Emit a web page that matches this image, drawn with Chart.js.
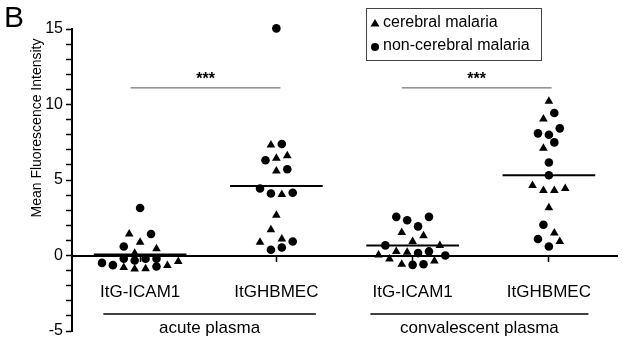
<!DOCTYPE html>
<html>
<head>
<meta charset="utf-8">
<script src="https://cdn.jsdelivr.net/npm/chart.js@4/dist/chart.umd.min.js"></script>
<style>
html, body { margin: 0; padding: 0; background: #fff; }
</style>
</head>
<body>
<canvas id="myChart" width="622" height="337"></canvas>
<script>
const groups = ['ItG-ICAM1', 'ItGHBMEC', 'ItG-ICAM1', 'ItGHBMEC'];
const plasmaLabels = ['acute plasma', 'convalescent plasma'];
const seriesNames = ['cerebral malaria', 'non-cerebral malaria'];

// cerebral malaria (triangles), one list per group
const cerebral = [
    [1.42, 0.87, 0.44, 0.15, -0.40, -0.67, -0.80, -0.89, -0.87],
    [7.31, 6.44, 6.60, 5.60, 4.04, 2.67, 1.71, 0.87, 1.09],
    [1.53, 1.31, 0.93, 0.67, 0.27, 0.22, 0.04, -0.24, -0.36, -0.58],
    [10.22, 9.04, 7.11, 4.64, 4.31, 4.31, 4.44, 3.16, 1.49, 0.93]
];
// horizontal scatter of each triangle around its group (category units)
const cerebralShift = [
    [-0.08, 0, 0.12, -0.04, 0.28, 0.20, -0.12, -0.04, 0.04],
    [-0.04, 0, 0.08, 0, 0.04, 0, -0.04, -0.12, 0.04],
    [-0.08, 0.08, 0, 0.20, -0.12, -0.04, -0.25, -0.17, 0.16, -0.08],
    [0, -0.04, -0.04, -0.12, -0.04, 0.04, 0.12, 0, 0.04, 0.08]
];

// non-cerebral malaria (circles)
const nonCerebral = [
    [3.15, 1.42, 0.60, -0.22, -0.33, -0.22, -0.22, -0.49, -0.64, -0.73],
    [15.04, 7.38, 6.31, 5.71, 4.44, 4.11, 4.16, 0.93, 0.38, 0.53],
    [2.56, 2.33, 2.56, 1.93, 0.67, 0.16, 0.27, 0.00, -0.62, -0.58],
    [9.44, 8.42, 8.09, 8.00, 7.49, 6.16, 5.31, 2.04, 1.09, 0.60]
];
const nonCerebralShift = [
    [0, 0.08, -0.12, -0.12, -0.04, 0.04, 0.12, -0.28, -0.20, 0.12],
    [0, 0.04, -0.08, 0.08, -0.12, -0.04, 0.12, 0.12, -0.04, 0.04],
    [-0.12, -0.04, 0.12, 0.04, -0.20, 0.04, 0.12, 0.24, 0, 0.08],
    [0.04, 0.08, -0.08, 0, 0.04, 0, 0, -0.04, -0.08, 0]
];

const means = [0.07, 4.60, 0.67, 5.31];
const sigSpans = [[0.93, 2.03], [2.92, 4.02]];
const sigLevel = 11.1;
const plasmaSpans = [[0.73, 2.29], [2.69, 4.29]];
const bracketLevel = -3.87;
const plasmaTextLevel = -4.85;

function toPoints(vals, shifts) {
    var pts = [];
    vals.forEach(function(g, i) {
        g.forEach(function(v, j) {
            pts.push({x: i + 1 + shifts[i][j], y: v});
        });
    });
    return pts;
}

var datasets = [
    {
        label: seriesNames[0],
        data: toPoints(cerebral, cerebralShift),
        pointStyle: 'triangle',
        pointRadius: 5,
        backgroundColor: '#000',
        borderColor: '#000',
        borderWidth: 0,
        clip: false
    },
    {
        label: seriesNames[1],
        data: toPoints(nonCerebral, nonCerebralShift),
        pointStyle: 'circle',
        pointRadius: 4.3,
        backgroundColor: '#000',
        borderColor: '#000',
        borderWidth: 0,
        clip: false
    }
];

means.forEach(function(m, i) {
    datasets.push({
        type: 'line',
        data: [{x: i + 1 - 0.34, y: m}, {x: i + 1 + 0.34, y: m}],
        borderColor: '#000',
        borderWidth: 2,
        pointRadius: 0
    });
});
sigSpans.forEach(function(s) {
    datasets.push({
        type: 'line',
        data: [{x: s[0], y: sigLevel}, {x: s[1], y: sigLevel}],
        borderColor: '#555',
        borderWidth: 1,
        pointRadius: 0
    });
});
plasmaSpans.forEach(function(s) {
    datasets.push({
        type: 'line',
        data: [{x: s[0], y: bracketLevel}, {x: s[1], y: bracketLevel}],
        borderColor: '#000',
        borderWidth: 1.5,
        pointRadius: 0
    });
});

const extras = {
    id: 'extras',
    afterDraw: function(chart) {
        var ctx = chart.ctx;
        var xs = chart.scales.x, ys = chart.scales.y;
        ctx.save();
        ctx.fillStyle = '#000';

        // panel letter
        ctx.font = '30px "Liberation Sans", Arial, sans-serif';
        ctx.textAlign = 'left';
        ctx.textBaseline = 'top';
        ctx.fillText('B', 4, 4);

        // y title
        ctx.save();
        ctx.translate(37, 128);
        ctx.rotate(-Math.PI / 2);
        ctx.font = '14px "Liberation Sans", Arial, sans-serif';
        ctx.textAlign = 'center';
        ctx.textBaseline = 'middle';
        ctx.fillText('Mean Fluorescence Intensity', 0, 0);
        ctx.restore();

        // significance stars
        ctx.font = 'bold 16px "Liberation Sans", Arial, sans-serif';
        ctx.textAlign = 'center';
        ctx.textBaseline = 'bottom';
        sigSpans.forEach(function(s) {
            ctx.fillText('***', xs.getPixelForValue((s[0] + s[1]) / 2), ys.getPixelForValue(sigLevel));
        });

        // plasma labels
        ctx.font = '17px "Liberation Sans", Arial, sans-serif';
        ctx.textBaseline = 'middle';
        plasmaSpans.forEach(function(s, i) {
            ctx.fillText(plasmaLabels[i], xs.getPixelForValue((s[0] + s[1]) / 2), ys.getPixelForValue(plasmaTextLevel));
        });

        // legend box
        var lx = 366, ly = 8, lw = 175, lh = 52;
        ctx.strokeStyle = '#444';
        ctx.lineWidth = 1;
        ctx.strokeRect(lx + 0.5, ly + 0.5, lw, lh);
        ctx.font = '16px "Liberation Sans", Arial, sans-serif';
        ctx.textAlign = 'left';
        ctx.textBaseline = 'middle';
        var rowY = [ly + 15, ly + 38];
        // triangle marker
        ctx.beginPath();
        ctx.moveTo(lx + 9, rowY[0] - 4);
        ctx.lineTo(lx + 13.5, rowY[0] + 3.5);
        ctx.lineTo(lx + 4.5, rowY[0] + 3.5);
        ctx.closePath();
        ctx.fill();
        ctx.fillText(seriesNames[0], lx + 17, rowY[0]);
        // circle marker
        ctx.beginPath();
        ctx.arc(lx + 9, rowY[1] + 1, 4, 0, Math.PI * 2);
        ctx.fill();
        ctx.fillText(seriesNames[1], lx + 17, rowY[1]);
        ctx.restore();
    }
};

const ctx = document.getElementById('myChart').getContext('2d');
Chart.defaults.font.family = '"Liberation Sans", Arial, sans-serif';
const myChart = new Chart(ctx, {
    type: 'scatter',
    data: {datasets: datasets},
    options: {
        responsive: false,
        animation: false,
        layout: {padding: {top: 29, bottom: 6, left: 0, right: 0}},
        plugins: {
            legend: {display: false},
            tooltip: {enabled: false}
        },
        scales: {
            x: {
                type: 'linear',
                position: {y: 0},
                min: 0.5,
                max: 4.5,
                afterBuildTicks: function(scale) {
                    scale.ticks = groups.map(function(g, i) { return {value: i + 1}; });
                },
                afterFit: function(scale) {
                    scale.paddingLeft = 0; scale.paddingRight = 0;
                    scale.paddingTop = 0; scale.paddingBottom = 0;
                },
                ticks: {
                    callback: function(v) { return groups[Math.round(v) - 1]; },
                    font: {size: 17},
                    color: '#000',
                    padding: 22,
                    autoSkip: false,
                    maxRotation: 0
                },
                grid: {drawOnChartArea: false, tickLength: 5, tickColor: '#000', tickWidth: 1.5},
                border: {color: '#000', width: 2}
            },
            y: {
                min: -5,
                max: 15,
                afterFit: function(scale) {
                    scale.width = 72;
                    scale.paddingTop = 0; scale.paddingBottom = 0;
                },
                ticks: {
                    stepSize: 1,
                    autoSkip: false,
                    callback: function(v) { return v % 5 === 0 ? String(v) : ''; },
                    font: {size: 16},
                    color: '#000',
                    padding: 3
                },
                grid: {drawOnChartArea: false, tickLength: 6, tickColor: '#000', tickWidth: 1.5},
                border: {color: '#000', width: 2}
            }
        }
    },
    plugins: [extras]
});
</script>
</body>
</html>
